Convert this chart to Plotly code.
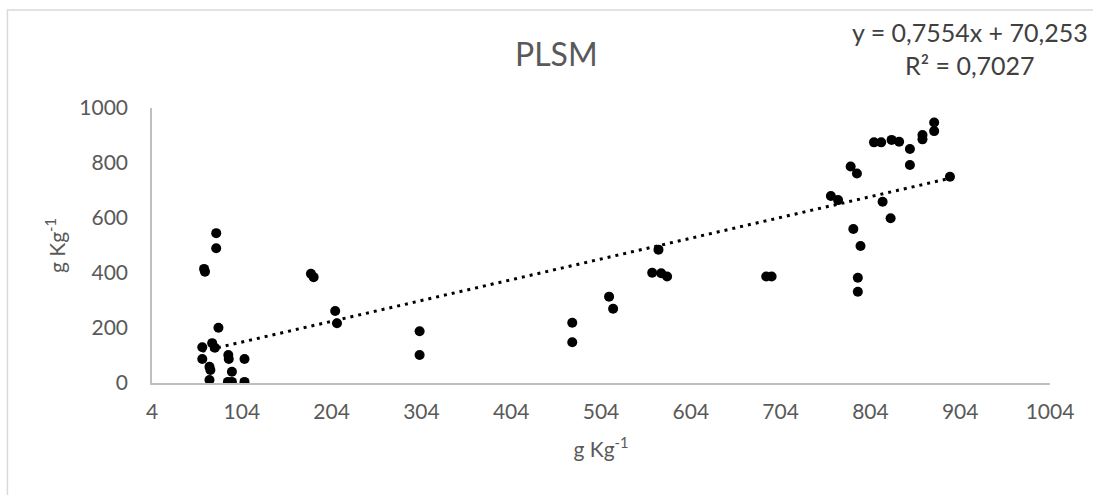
import numpy as np
import plotly.graph_objects as go

# Measured pairs (g Kg-1)
x_vals = [62, 63, 75.5, 75.5, 78, 60, 71, 74, 60, 68, 69, 68, 89, 89.5, 93, 88.5, 93, 107, 107,
          181, 184, 208, 210, 302, 302,
          472, 472, 513, 517.5, 561, 568, 571, 577.6, 688, 694,
          760, 768, 782, 789, 785, 793, 790, 790, 808, 816, 817.6, 826.5, 827.6, 836,
          848, 848, 862, 862, 875, 875, 892.6]
y_vals = [415, 405, 545, 490, 201, 130, 145, 128, 87, 59, 47, 11, 102, 87, 41, 4, 4, 87, 4,
          397, 385, 262, 217, 188, 102,
          219, 148, 314, 270, 401, 485, 399, 387, 387, 387,
          680, 665, 787, 762, 560, 498, 383, 332, 875, 875, 659, 599, 884, 877,
          851, 793, 902, 886, 947, 916, 750]

# Linear trend reported on the chart
slope = 0.7554
intercept = 70.253
r_squared = 0.7027

x_ticks = [4, 104, 204, 304, 404, 504, 604, 704, 804, 904, 1004]
y_ticks = [0, 200, 400, 600, 800, 1000]

FONT = "Lato"
GREY = "#595959"

trend_x = np.array([min(x_vals), max(x_vals)])
trend_y = slope * trend_x + intercept

fig = go.Figure()
fig.add_trace(go.Scatter(
    x=trend_x, y=trend_y, mode="lines",
    line=dict(color="black", width=3, dash="3px,5px"),
    hoverinfo="skip", showlegend=False,
))
fig.add_trace(go.Scatter(
    x=x_vals, y=y_vals, mode="markers",
    marker=dict(color="black", size=10),
    showlegend=False,
))

def fmt(v):
    return f"{v}".replace(".", ",")

fig.update_layout(
    width=1093, height=495,
    margin=dict(l=152, r=43, t=108, b=112),
    paper_bgcolor="white", plot_bgcolor="white",
    font=dict(family=FONT, color=GREY, size=20),
    title=dict(text="PLSM", x=0.509, xanchor="center", y=0.889, yanchor="middle",
               font=dict(family=FONT, size=32, color=GREY)),
    xaxis=dict(
        range=[4, 1004], tickmode="array", tickvals=x_ticks,
        ticktext=[str(t) for t in x_ticks],
        showline=True, linecolor="#BFBFBF", linewidth=1.5,
        showgrid=False, zeroline=False, ticks="",
        ticklabelstandoff=9,
        tickfont=dict(family=FONT, size=21, color=GREY),
        title=dict(text="g Kg<sup>-1</sup>", font=dict(family=FONT, size=21, color=GREY),
                   standoff=20),
    ),
    yaxis=dict(
        range=[0, 1000], tickmode="array", tickvals=y_ticks,
        showline=True, linecolor="#BFBFBF", linewidth=1.5,
        showgrid=False, zeroline=False, ticks="",
        ticklabelstandoff=18,
        tickfont=dict(family=FONT, size=21, color=GREY),
        title=dict(text="g Kg<sup>-1</sup>", font=dict(family=FONT, size=21, color=GREY),
                   standoff=8),
    ),
    annotations=[dict(
        text=f"y = {fmt(slope)}x + {fmt(intercept)}<br>R² = {fmt(r_squared)}",
        xref="paper", yref="paper", x=0.911, y=1.216, xanchor="center", yanchor="middle",
        showarrow=False, align="center",
        font=dict(family=FONT, size=25, color="#404040"),
    )],
    shapes=[dict(
        type="rect", xref="paper", yref="paper",
        x0=-0.161, x1=1.07, y0=-0.45, y1=1.356,
        line=dict(color="#D9D9D9", width=1.5), layer="below",
    )],
)

fig.write_html("out.html")
